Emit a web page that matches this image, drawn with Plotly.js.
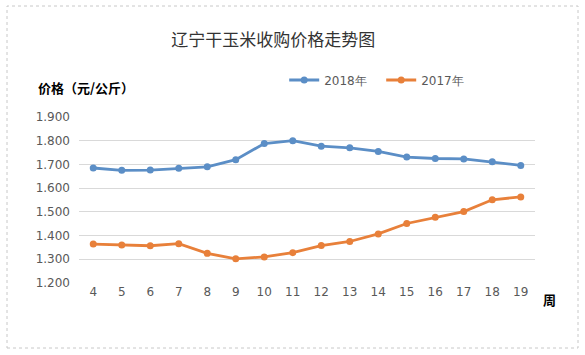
<!DOCTYPE html>
<html><head><meta charset="utf-8">
<script src="https://cdn.plot.ly/plotly-3.0.1.min.js"></script>
<style>html,body{margin:0;padding:0;background:#fff}#c{width:585px;height:355px}</style>
</head><body><div id="c"></div>
<script>
const weeks = [4,5,6,7,8,9,10,11,12,13,14,15,16,17,18,19];
const price2018 = [1.685,1.675,1.676,1.684,1.690,1.720,1.788,1.800,1.777,1.770,1.755,1.731,1.725,1.723,1.711,1.696];
const price2017 = [1.364,1.360,1.357,1.366,1.325,1.302,1.310,1.328,1.358,1.375,1.407,1.451,1.477,1.501,1.551,1.563];
const yTicks = [1.2,1.3,1.4,1.5,1.6,1.7,1.8,1.9];

const traces = [
  {x: weeks, y: price2018, name: '2018年', type: 'scatter', mode: 'lines+markers',
   line: {color: '#5b8ec6', width: 2.8}, marker: {color: '#5b8ec6', size: 7}},
  {x: weeks, y: price2017, name: '2017年', type: 'scatter', mode: 'lines+markers',
   line: {color: '#e8803a', width: 2.8}, marker: {color: '#e8803a', size: 7}}
];
const layout = {
  width: 585, height: 355,
  margin: {l: 79, r: 50, t: 117, b: 72},
  paper_bgcolor: '#ffffff', plot_bgcolor: '#ffffff',
  showlegend: true,
  title: {text: '辽宁干玉米收购价格走势图', xref: 'container', yref: 'container', x: 0.467, y: 1 - 40/355,
    xanchor: 'center', yanchor: 'middle', font: {family: 'Noto Sans CJK SC', size: 17, color: '#333333'}},
  legend: {orientation: 'h', x: 0.45, y: 1.223, xanchor: 'left', yanchor: 'middle',
    font: {family: 'DejaVu Sans', size: 12, color: '#595959'}, bgcolor: 'rgba(0,0,0,0)',
    itemwidth: 30, entrywidth: 52, tracegroupgap: 0},
  xaxis: {type: 'linear', range: [3.5, 19.5], tickvals: weeks, ticktext: weeks.map(String),
    showgrid: false, zeroline: false, showline: false, ticks: '', ticklen: 0,
    tickfont: {family: 'DejaVu Sans', size: 12, color: '#595959'}, fixedrange: true},
  yaxis: {range: [1.2, 1.9], tickvals: yTicks, tickformat: '.3f', showgrid: true, gridcolor: '#d9d9d9',
    gridwidth: 1, zeroline: false, showline: false, ticks: '', ticklabelstandoff: 8,
    tickfont: {family: 'DejaVu Sans', size: 12, color: '#595959'}},
  annotations: [
    {text: '<b>价格（元/公斤）</b>', xref: 'paper', yref: 'paper', x: -0.094, y: 1.175, xanchor: 'left', yanchor: 'middle',
     showarrow: false, font: {family: 'Noto Sans CJK SC', size: 13, color: '#000'}},
    {text: '<b>周</b>', xref: 'paper', yref: 'paper', x: 1.031, y: -0.102, xanchor: 'center', yanchor: 'middle',
     showarrow: false, font: {family: 'Noto Sans CJK SC', size: 13, color: '#000'}}
  ],
  shapes: [
    {type: 'rect', xref: 'paper', yref: 'paper', x0: -72/456, x1: (578-79)/456, y0: (283-348)/166, y1: (283-6)/166,
     line: {color: '#c8c8c8', width: 1, dash: 'dot'}, fillcolor: 'rgba(0,0,0,0)', layer: 'below'}
  ]
};
Plotly.newPlot('c', traces, layout, {displayModeBar: false, staticPlot: true});
</script></body></html>
